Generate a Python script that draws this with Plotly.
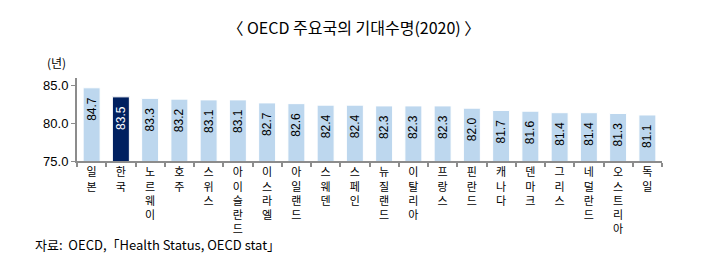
import plotly.graph_objects as go

categories = ["일본", "한국", "노르웨이", "호주", "스위스", "아이슬란드", "이스라엘", "아일랜드",
              "스웨덴", "스페인", "뉴질랜드", "이탈리아", "프랑스", "핀란드", "캐나다", "덴마크",
              "그리스", "네덜란드", "오스트리아", "독일"]
values = [84.7, 83.5, 83.3, 83.2, 83.1, 83.1, 82.7, 82.6, 82.4, 82.4,
          82.3, 82.3, 82.3, 82.0, 81.7, 81.6, 81.4, 81.4, 81.3, 81.1]
highlight = "한국"
y_ticks = [75, 80, 85]
y_tick_labels = ["75.0", "80.0", "85.0"]

FONT = "Liberation Sans, Arial, Noto Sans CJK KR, sans-serif"
KFONT = "Noto Sans CJK KR, Liberation Sans, sans-serif"
LIGHT = "#BDD7EE"
DARK = "#002060"

colors = [DARK if c == highlight else LIGHT for c in categories]
text_colors = ["white" if c == highlight else "black" for c in categories]
labels = [f"{v:.1f}\u00a0\u00a0" for v in values]
tick_text = ["<br>".join(list(c)) for c in categories]

fig = go.Figure()
fig.add_trace(go.Bar(
    x=categories, y=values,
    marker=dict(color=colors, line=dict(color="white", width=1)),
    width=0.58,
    text=labels, textposition="inside", insidetextanchor="end",
    textangle=-90, constraintext="none",
    textfont=dict(family=FONT, size=12, color=text_colors),
    hoverinfo="skip",
))

fig.update_layout(
    width=712, height=269,
    margin=dict(l=77, r=50, t=78, b=108),
    plot_bgcolor="white", paper_bgcolor="white",
    showlegend=False,
    title=dict(text="〈 OECD 주요국의 기대수명(2020) 〉", x=0.497, xanchor="center",
               y=0.895, yanchor="middle",
               font=dict(family=KFONT, size=16, color="black")),
)
fig.update_yaxes(
    range=[75, 86], tickvals=y_ticks, ticktext=y_tick_labels,
    showgrid=False, zeroline=False,
    showline=True, linecolor="#8c8c8c", linewidth=2,
    ticks="outside", ticklen=4, tickcolor="#8c8c8c", tickwidth=1,
    tickfont=dict(family=FONT, size=13, color="black"),
)
fig.update_xaxes(
    tickvals=categories, ticktext=tick_text,
    showgrid=False, showline=True, linecolor="#8c8c8c", linewidth=2,
    ticks="outside", tickson="boundaries", ticklen=4, tickcolor="#8c8c8c", tickwidth=2,
    tickfont=dict(family=KFONT, size=11, color="black"),
    tickangle=0,
)
fig.add_annotation(text="(년)", xref="paper", yref="paper", x=0, y=1,
                   xanchor="right", yanchor="bottom", xshift=-9, yshift=5,
                   showarrow=False, font=dict(family=KFONT, size=12, color="black"))
fig.add_annotation(text="자료:  OECD,「Health Status, OECD stat」", xref="paper", yref="paper",
                   x=-0.075, y=0, xanchor="left", yanchor="top", yshift=-72,
                   showarrow=False, font=dict(family=KFONT, size=13, color="black"))

fig.write_html("out.html")
